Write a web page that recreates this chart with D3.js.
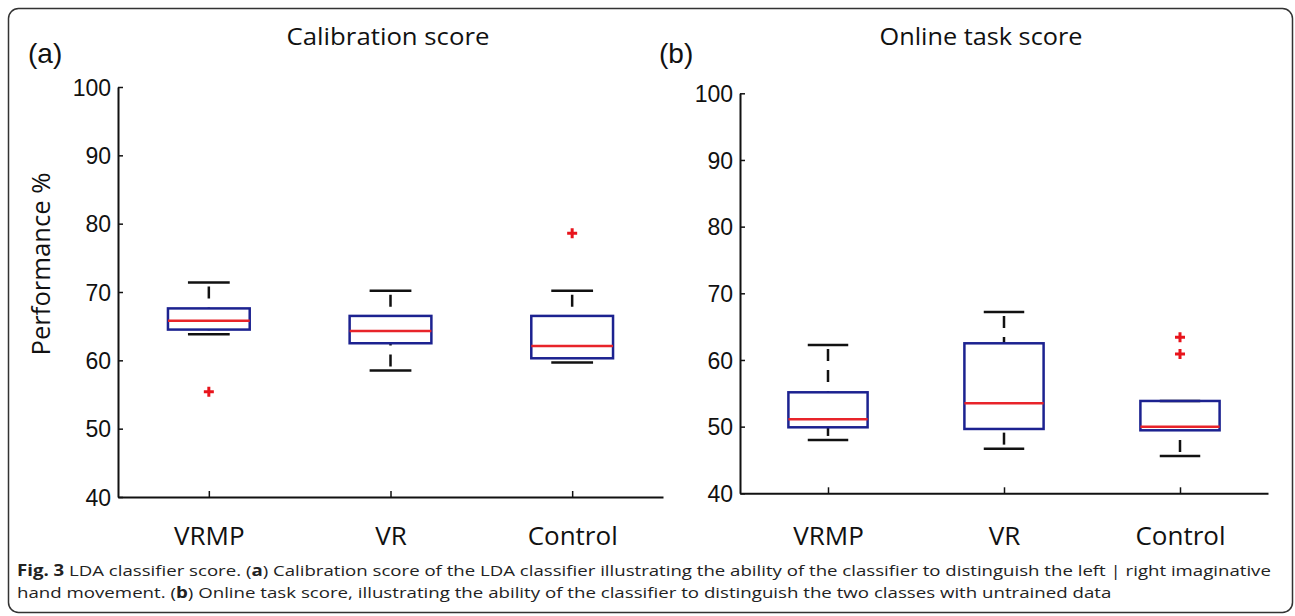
<!DOCTYPE html>
<html>
<head>
<meta charset="utf-8">
<script src="https://cdn.jsdelivr.net/npm/d3@7"></script>
<style>
  body { margin: 0; background: #fff; }
  svg { display: block; }
</style>
</head>
<body>
<div id="chart"></div>
<script>
// groups on the x axis
const categories = ["VRMP", "VR", "Control"];
const yTicks = [40, 50, 60, 70, 80, 90, 100];

// (a) calibration score
const calibLowWhisker = [63.8, 58.5, 59.7];
const calibQ1 = [64.5, 62.5, 60.3];
const calibMedian = [65.8, 64.3, 62.1];
const calibQ3 = [67.6, 66.5, 66.5];
const calibHighWhisker = [71.4, 70.2, 70.2];
const calibOutliers = [[55.4], [], [78.6]];

// (b) online task score
const onlineLowWhisker = [48.0, 46.7, 45.6];
const onlineQ1 = [49.9, 49.65, 49.45];
const onlineMedian = [51.1, 53.5, 50.0];
const onlineQ3 = [55.15, 62.5, 53.85];
const onlineHighWhisker = [62.25, 67.2, 53.85];
const onlineOutliers = [[], [], [63.4, 60.9]];

const W = 1295, H = 616;
const svg = d3.select("#chart").append("svg")
  .attr("width", W)
  .attr("height", H);

// outer figure frame
svg.append("rect")
  .attr("x", 8.5).attr("y", 8.5)
  .attr("width", W - 11).attr("height", 604)
  .attr("rx", 10).attr("ry", 10)
  .attr("fill", "none")
  .attr("stroke", "#333")
  .attr("stroke-width", 1.5);

const panels = [
  {
    letter: "(a)", letterX: 28, title: "Calibration score", titleX: 388,
    x0: 118, x1: 663, yTop: 87, yBot: 497, ylabel: "Performance %",
    low: calibLowWhisker, q1: calibQ1, med: calibMedian, q3: calibQ3,
    high: calibHighWhisker, out: calibOutliers
  },
  {
    letter: "(b)", letterX: 659, title: "Online task score", titleX: 981,
    x0: 740, x1: 1268, yTop: 93.3, yBot: 493.3, ylabel: null,
    low: onlineLowWhisker, q1: onlineQ1, med: onlineMedian, q3: onlineQ3,
    high: onlineHighWhisker, out: onlineOutliers
  }
];

const tickFont = "'Liberation Sans', Arial, sans-serif";
const textFont = "'Open Sans', 'Noto Sans', sans-serif";

// squeeze a text horizontally to a target width (reference uses a narrow font)
function fitWidth(sel, target) {
  const w = sel.node().getComputedTextLength();
  return target / w;
}

panels.forEach(p => {
  const x = d3.scaleLinear().domain([0.5, 3.5]).range([p.x0, p.x1]);
  const y = d3.scaleLinear().domain([40, 100]).range([p.yBot, p.yTop]);

  const rows = categories.map((c, i) => ({
    i, cat: c, low: p.low[i], q1: p.q1[i], med: p.med[i],
    q3: p.q3[i], high: p.high[i], out: p.out[i]
  }));

  const g = svg.append("g");

  // panel letter + title
  g.append("text")
    .attr("x", p.letterX).attr("y", 63)
    .attr("font-family", tickFont)
    .attr("font-size", 28)
    .attr("fill", "#111")
    .text(p.letter);

  const t = g.append("text")
    .attr("text-anchor", "middle")
    .attr("font-family", textFont)
    .attr("font-size", 23)
    .attr("fill", "#111")
    .text(p.title);
  t.attr("transform", `translate(${p.titleX},45) scale(${fitWidth(t, 203)},1)`);

  // y axis, ticks pointing inward like matlab
  const yAxis = g.append("g")
    .attr("transform", `translate(${p.x0},0)`)
    .call(d3.axisRight(y).tickValues(yTicks).tickSize(5).tickSizeOuter(0).tickFormat(d3.format("d")));
  yAxis.select(".domain").attr("stroke", "#111").attr("stroke-width", 2);
  yAxis.selectAll(".tick line").attr("stroke", "#111").attr("stroke-width", 1.5);
  yAxis.selectAll(".tick text")
    .attr("x", -7)
    .attr("dy", "0.36em")
    .attr("text-anchor", "end")
    .attr("font-family", tickFont)
    .attr("font-size", 23)
    .attr("fill", "#111");

  // x axis
  const xAxis = g.append("g")
    .attr("transform", `translate(0,${p.yBot})`)
    .call(d3.axisTop(x).tickValues([1, 2, 3]).tickSize(6).tickSizeOuter(0).tickFormat(d => categories[d - 1]));
  xAxis.select(".domain").attr("stroke", "#111").attr("stroke-width", 2);
  xAxis.selectAll(".tick line").attr("stroke", "#111").attr("stroke-width", 1.5);
  xAxis.selectAll(".tick text")
    .attr("y", 545 - p.yBot)
    .attr("dy", 0)
    .attr("font-family", textFont)
    .attr("font-size", 26)
    .attr("fill", "#111");

  if (p.ylabel) {
    const yl = g.append("text")
      .attr("text-anchor", "middle")
      .attr("font-family", textFont)
      .attr("font-size", 25)
      .attr("fill", "#111")
      .text(p.ylabel);
    yl.attr("transform", `translate(50,264) rotate(-90) scale(${fitWidth(yl, 183)},1)`);
  }

  const boxHalf = 0.225, capHalf = 0.115;
  const box = g.selectAll(".box").data(rows).enter().append("g").attr("class", "box");

  // dashed whiskers, drawn from cap toward the box
  box.append("line")
    .attr("x1", d => x(d.i + 1)).attr("x2", d => x(d.i + 1))
    .attr("y1", d => y(d.high)).attr("y2", d => y(d.q3))
    .attr("stroke", "#111").attr("stroke-width", 2.5)
    .attr("stroke-dasharray", "12,9").attr("stroke-dashoffset", 17);
  box.append("line")
    .attr("x1", d => x(d.i + 1)).attr("x2", d => x(d.i + 1))
    .attr("y1", d => y(d.low)).attr("y2", d => y(d.q1))
    .attr("stroke", "#111").attr("stroke-width", 2.5)
    .attr("stroke-dasharray", "12,9").attr("stroke-dashoffset", 17);

  // caps
  box.append("line")
    .attr("x1", d => x(d.i + 1 - capHalf)).attr("x2", d => x(d.i + 1 + capHalf))
    .attr("y1", d => y(d.high)).attr("y2", d => y(d.high))
    .attr("stroke", "#111").attr("stroke-width", 2.5);
  box.append("line")
    .attr("x1", d => x(d.i + 1 - capHalf)).attr("x2", d => x(d.i + 1 + capHalf))
    .attr("y1", d => y(d.low)).attr("y2", d => y(d.low))
    .attr("stroke", "#111").attr("stroke-width", 2.5);

  // box
  box.append("rect")
    .attr("x", d => x(d.i + 1 - boxHalf))
    .attr("y", d => y(d.q3))
    .attr("width", d => x(d.i + 1 + boxHalf) - x(d.i + 1 - boxHalf))
    .attr("height", d => y(d.q1) - y(d.q3))
    .attr("fill", "none")
    .attr("stroke", "#1c2290")
    .attr("stroke-width", 2.5);

  // median
  box.append("line")
    .attr("x1", d => x(d.i + 1 - boxHalf)).attr("x2", d => x(d.i + 1 + boxHalf))
    .attr("y1", d => y(d.med)).attr("y2", d => y(d.med))
    .attr("stroke", "#e8242a").attr("stroke-width", 2.5);

  // outliers as red plus signs
  box.each(function (d) {
    const b = d3.select(this);
    d.out.forEach(v => {
      b.append("path")
        .attr("d", `M${x(d.i + 1) - 5},${y(v)}h10M${x(d.i + 1)},${y(v) - 5}v10`)
        .attr("stroke", "#e8141c")
        .attr("stroke-width", 3)
        .attr("fill", "none");
    });
  });
});

// caption, two lines squeezed to the reference widths
const cap1 = svg.append("text")
  .attr("font-family", textFont)
  .attr("font-size", 17)
  .attr("fill", "#222");
cap1.append("tspan").attr("font-weight", "bold").text("Fig. 3");
cap1.append("tspan").text(" LDA classifier score. (");
cap1.append("tspan").attr("font-weight", "bold").text("a");
cap1.append("tspan").text(") Calibration score of the LDA classifier illustrating the ability of the classifier to distinguish the left | right imaginative");
cap1.attr("transform", `translate(17,576) scale(${fitWidth(cap1, 1255)},0.9)`);

const cap2 = svg.append("text")
  .attr("font-family", textFont)
  .attr("font-size", 17)
  .attr("fill", "#222");
cap2.append("tspan").text("hand movement. (");
cap2.append("tspan").attr("font-weight", "bold").text("b");
cap2.append("tspan").text(") Online task score, illustrating the ability of the classifier to distinguish the two classes with untrained data");
cap2.attr("transform", `translate(17,598) scale(${fitWidth(cap2, 1095)},0.9)`);
</script>
</body>
</html>
